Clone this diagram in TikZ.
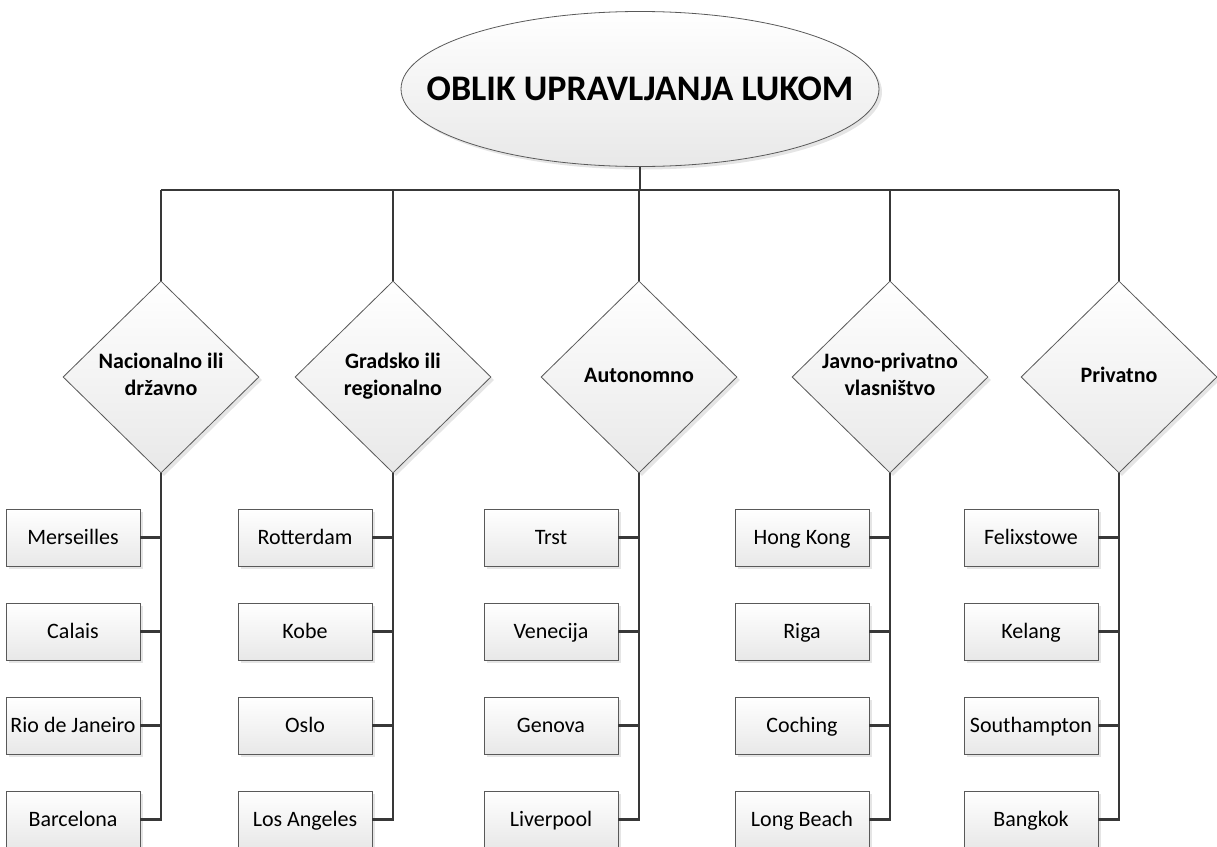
\documentclass[tikz,border=0pt]{standalone}
\usepackage{fontspec}
\setmainfont{Carlito}
\usetikzlibrary{shapes.geometric,shadows}
\begin{document}
\begin{tikzpicture}[x=1pt,y=-1pt,
 conn/.style={draw=black!78, line width=2.8pt},
 shp/.style={draw=black!65, line width=0.8pt, top color=white, bottom color=black!9,
   drop shadow={shadow xshift=3pt,shadow yshift=-3pt,fill=black!10,opacity=1}},
 port/.style={shp, rectangle, minimum width=134pt, minimum height=57pt, inner sep=0pt,
   text height=16pt, text depth=3pt, font=\fontsize{22}{26}\selectfont},
 kind/.style={shp, diamond, minimum width=196pt, minimum height=192pt, inner sep=0pt,
   align=center, font=\bfseries\fontsize{22}{27}\selectfont},
 rootstyle/.style={shp, ellipse, minimum width=478pt, minimum height=155pt, inner sep=0pt,
   font=\bfseries\fontsize{36}{40}\selectfont}
]
\useasboundingbox (0,0) rectangle (1217,846);

\node[rootstyle] (root) at (640,89) {\makebox[0pt]{OBLIK UPRAVLJANJA LUKOM}};

\node[kind] (k1) at (161,377) {Nacionalno ili\strut\\državno\strut};
\node[kind] (k2) at (393,377) {Gradsko ili\strut\\regionalno\strut};
\node[kind] (k3) at (639,377) {Autonomno\strut};
\node[kind] (k4) at (890,377) {Javno-privatno\strut\\vlasništvo\strut};
\node[kind] (k5) at (1119,377) {Privatno\strut};

\coordinate (bus) at (640,190);
\draw[conn] (root.south) -- (bus);
\draw[conn] (k1.north |- bus) -- (k5.north |- bus);
\foreach \i in {1,...,5}{
  \draw[conn] (k\i.north |- bus) -- (k\i.north);
}

% ports
\foreach \i/\x/\a/\b/\c/\d in {
  1/161/Merseilles/Calais/Rio de Janeiro/Barcelona,
  2/393/Rotterdam/Kobe/Oslo/Los Angeles,
  3/639/Trst/Venecija/Genova/Liverpool,
  4/890/Hong Kong/Riga/Coching/Long Beach,
  5/1119/Felixstowe/Kelang/Southampton/Bangkok}{
  \node[port] (p\i1) at (\x-88,537.5) {\a};
  \node[port] (p\i2) at (\x-88,631.5) {\b};
  \node[port] (p\i3) at (\x-88,725.5) {\c};
  \node[port] (p\i4) at (\x-88,819.5) {\d};
  \draw[conn] (k\i.south) |- (p\i4.east);
  \draw[conn] (p\i1.east) -- (p\i1.east -| k\i.south);
  \draw[conn] (p\i2.east) -- (p\i2.east -| k\i.south);
  \draw[conn] (p\i3.east) -- (p\i3.east -| k\i.south);
}
\end{tikzpicture}
\end{document}
